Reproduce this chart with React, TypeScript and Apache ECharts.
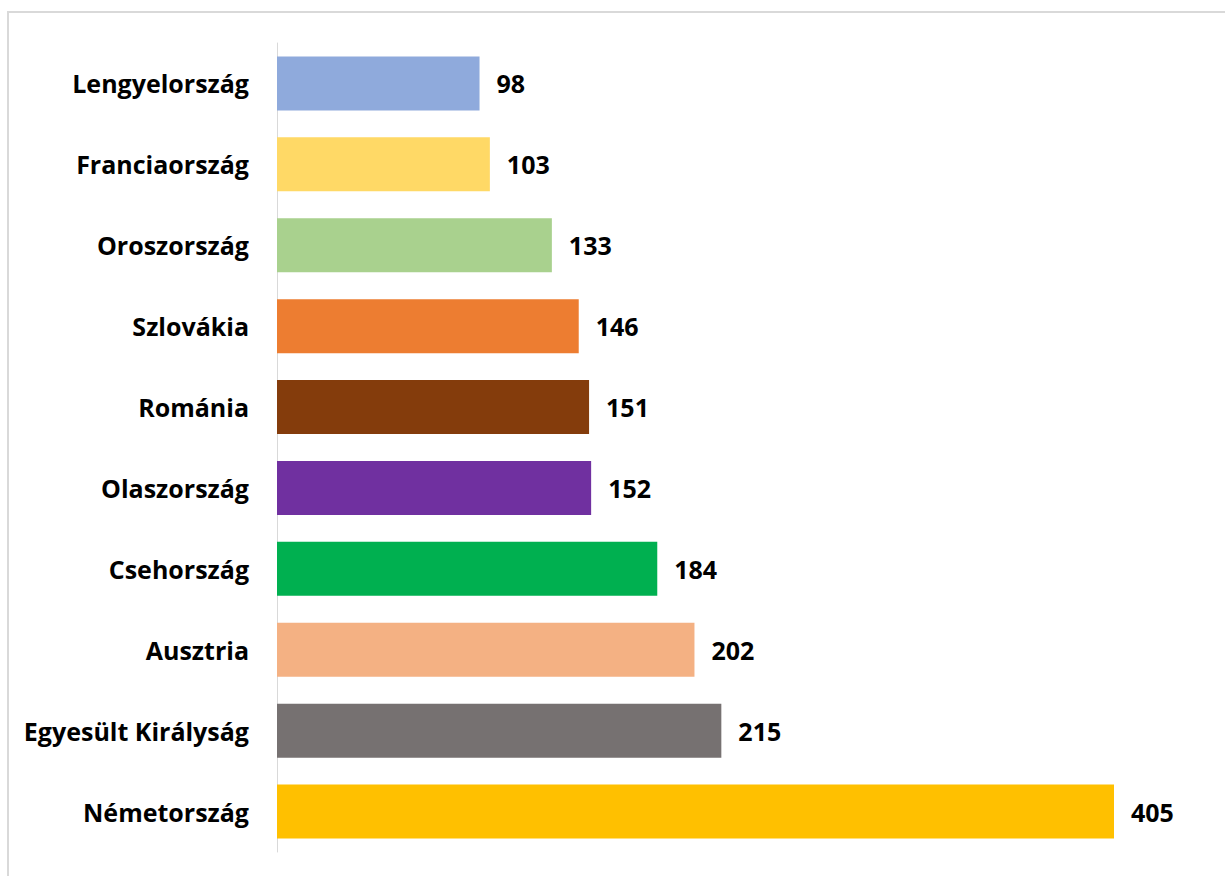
import React, { useEffect, useRef } from "react";
import * as echarts from "echarts";

const categories = [
  "Lengyelország",
  "Franciaország",
  "Oroszország",
  "Szlovákia",
  "Románia",
  "Olaszország",
  "Csehország",
  "Ausztria",
  "Egyesült Királyság",
  "Németország",
];
const values = [98, 103, 133, 146, 151, 152, 184, 202, 215, 405];
const colors = [
  "#8FAADC",
  "#FFD966",
  "#A9D18E",
  "#ED7D31",
  "#843C0C",
  "#7030A0",
  "#00B050",
  "#F4B183",
  "#767171",
  "#FFC000",
];

const FONT = "'Open Sans', 'Noto Sans', sans-serif";

export default function App() {
  const ref = useRef<HTMLDivElement>(null);
  useEffect(() => {
    if (!ref.current) return;
    const chart = echarts.init(ref.current, undefined, { renderer: "svg" });
    chart.setOption({
      animation: false,
      backgroundColor: "#ffffff",
      graphic: [
        {
          type: "rect",
          shape: { x: 8, y: 12, width: 1400, height: 1000 },
          style: { fill: "none", stroke: "#d9d9d9", lineWidth: 2 },
          silent: true,
        },
      ],
      grid: { left: 277, right: 18, top: 43, bottom: 24, containLabel: false },
      xAxis: {
        type: "value",
        min: 0,
        max: 450,
        show: false,
        splitLine: { show: false },
      },
      yAxis: {
        type: "category",
        inverse: true,
        data: categories,
        axisLine: { show: true, lineStyle: { color: "#d9d9d9", width: 1 } },
        axisTick: { show: false },
        axisLabel: {
          margin: 28,
          color: "#000000",
          fontSize: 25,
          fontWeight: "bold",
          fontFamily: FONT,
        },
      },
      series: [
        {
          type: "bar",
          barWidth: 54,
          data: values.map((v, i) => ({ value: v, itemStyle: { color: colors[i] } })),
          label: {
            show: true,
            position: "right",
            distance: 17,
            color: "#000000",
            fontSize: 25,
            fontWeight: "bold",
            fontFamily: FONT,
          },
        },
      ],
    });
    return () => chart.dispose();
  }, []);
  return (
    <div
      ref={ref}
      style={{ position: "fixed", left: 0, top: 0, width: 1225, height: 876 }}
    />
  );
}
